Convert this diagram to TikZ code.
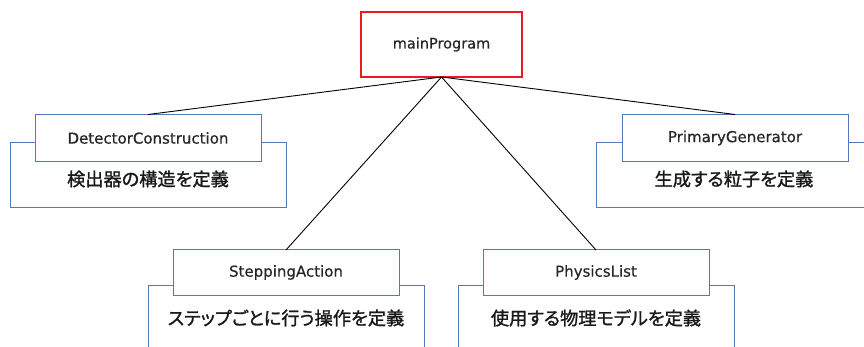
\documentclass[tikz,border=0pt]{standalone}
\usepackage{fontspec}
\setmainfont[FakeBold=0.5]{DejaVu Sans}
\newfontfamily\jp[AutoFakeBold=1.3,RawFeature={+palt}]{Noto Sans CJK JP}
\definecolor{boxblue}{RGB}{84,120,190}
\definecolor{mainred}{RGB}{232,28,36}
\begin{document}
\begin{tikzpicture}[x=1pt,y=-1pt,
  classbox/.style={draw=boxblue, line width=1pt, fill=white, minimum width=226pt, inner sep=0pt, outer sep=0pt, text=black!85, font=\fontsize{15}{18}\selectfont},
  rolebox/.style={draw=boxblue, line width=1pt, fill=white, minimum width=276pt, minimum height=65pt, inner sep=0pt, outer sep=0pt},
  roletext/.style={font=\jp\bfseries\fontsize{18.2}{22}\selectfont, inner sep=0pt, text=black!90},
  link/.style={draw=black, line width=0.9pt}]
\clip (0,0) rectangle (864,347);
\node[draw=mainred, line width=1.6pt, fill=white, minimum width=161pt, minimum height=65pt, inner sep=0pt, outer sep=0pt, text=black!85, font=\fontsize{14.5}{18}\selectfont] (main) at (441.5,44.5) {mainProgram};
% detector
\node[rolebox] (dcr) at (148,175.5) {};
\node[classbox, minimum height=47pt] (dc) at (148,138) {DetectorConstruction};
\node[roletext] (dct) at (148,179) {検出器の構造を定義};
% primary
\node[rolebox] (pgr) at (734,175.5) {};
\node[classbox, minimum height=47pt] (pg) at (735,138) {PrimaryGenerator};
\node[roletext] (pgt) at (734,179) {生成する粒子を定義};
% stepping
\node[rolebox] (sar) at (286,317.5) {};
\node[classbox, minimum height=45pt] (sa) at (286,272.5) {SteppingAction};
\node[roletext] (sat) at (286,318) {ステップごとに行う操作を定義};
% physics
\node[rolebox] (plr) at (596,317.5) {};
\node[classbox, minimum height=45pt] (pl) at (596,272.5) {PhysicsList};
\node[roletext] (plt) at (596,318) {使用する物理モデルを定義};
% links
\draw[link] (main.south) -- (dc.north);
\draw[link] (main.south) -- (pg.north);
\draw[link] (main.south) -- (sa.north);
\draw[link] (main.south) -- (pl.north);
\end{tikzpicture}
\end{document}
